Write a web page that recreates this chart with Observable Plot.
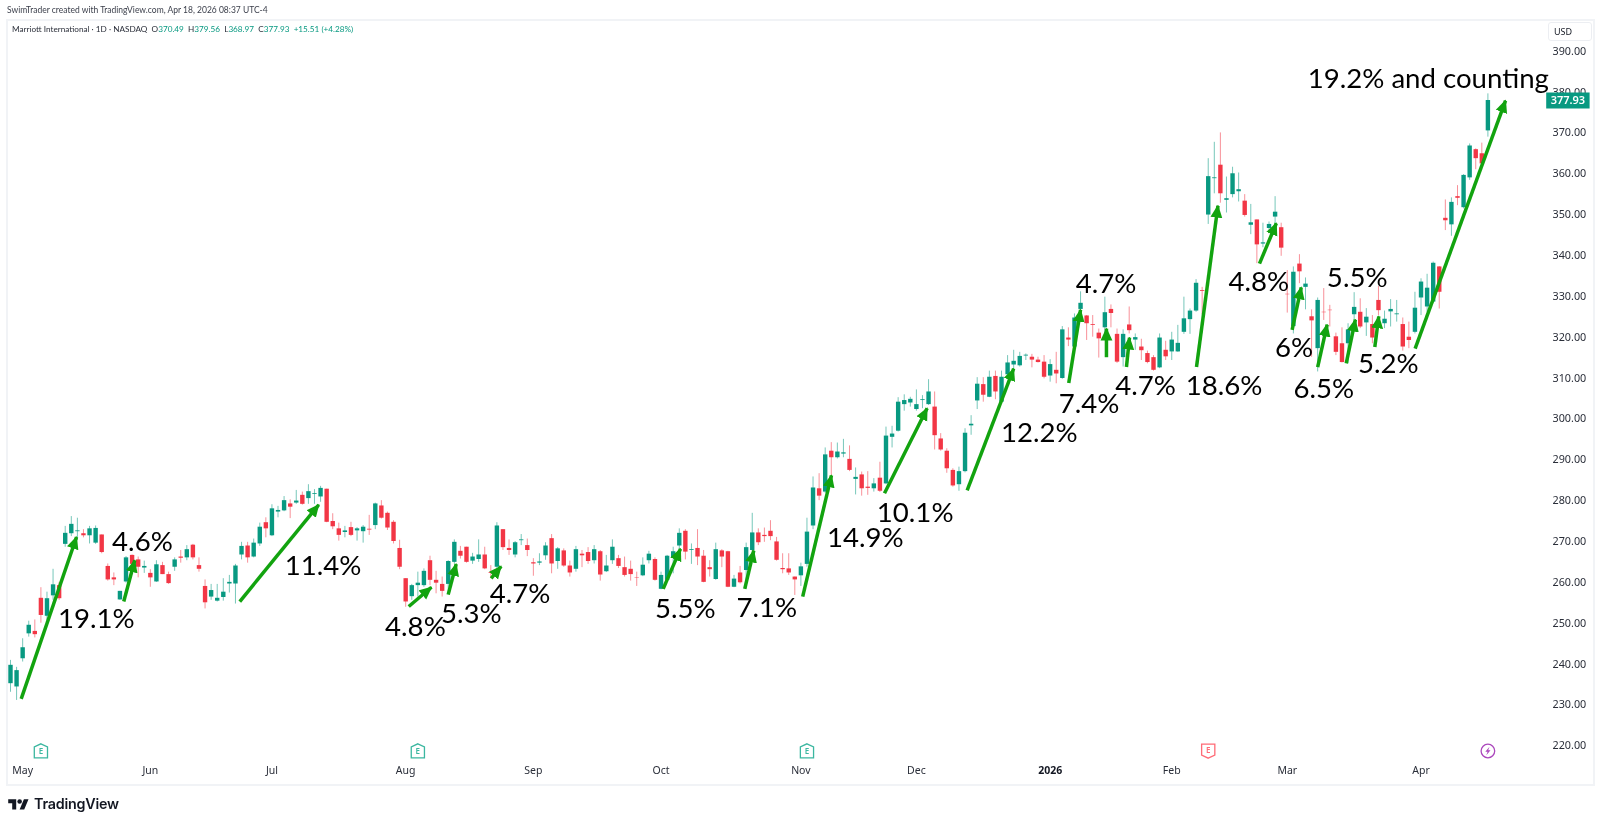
<!DOCTYPE html>
<html><head><meta charset="utf-8">
<script src="https://cdn.jsdelivr.net/npm/d3@7"></script>
<script src="https://cdn.jsdelivr.net/npm/@observablehq/plot@0.6"></script>
<style>
html,body{margin:0;padding:0;background:#fff;overflow:hidden;width:1600px;height:826px}
#wrap{position:relative;width:1600px;height:826px;font-family:"Noto Sans",sans-serif;color:#131722;filter:blur(.35px)}
#frame{position:absolute;left:6px;top:19px;width:1585px;height:763px;border:2px solid #f1f3f6}
#chart{position:absolute;left:0;top:0}
.h{position:absolute;white-space:nowrap}
#credit{left:7px;top:3px;font-family:Lato,sans-serif;font-size:8.5px;line-height:14px;color:#3a3e4a}
#legend{left:12px;top:22px;font-family:Lato,sans-serif;font-size:8.2px;line-height:14px;color:#2a2e39}
#legend b{font-weight:400;color:#089981}
#usd{left:1548px;top:22px;width:42px;height:17px;border:1px solid #eceef2;border-radius:3px;font-size:9px;line-height:17px;text-indent:5px;box-sizing:content-box}
#brand{left:34px;top:795px;font-family:Inter,sans-serif;font-weight:600;font-size:14.3px;line-height:18px;color:#131722;letter-spacing:-.2px}
#logo{left:8px;top:797px}
</style></head>
<body><div id="wrap">
<div id="frame"></div>
<div id="chart"></div>
<div class="h" id="credit">SwimTrader created with TradingView.com, Apr 18, 2026 08:37 UTC-4</div>
<div class="h" id="legend">Marriott International · 1D · NASDAQ&nbsp; O<b>370.49</b>&nbsp; H<b>379.56</b>&nbsp; L<b>368.97</b>&nbsp; C<b>377.93</b>&nbsp; <b>+15.51 (+4.28%)</b></div>
<div class="h" id="usd">USD</div>
<svg class="h" id="logo" width="21" height="16" viewBox="0 0 36 28"><path fill="#131722" d="M14 22H7V11H0V4h14v18zM28 22h-8l7.5-18h8L28 22z"/><circle fill="#131722" cx="20" cy="8" r="4"/></svg>
<div class="h" id="brand">TradingView</div>
</div>
<script>
const open = [
235.2,234.4,241.3,247.4,248.0,256.1,251.7,256.7,259.2,269.3,
271.9,272.4,271.9,271.4,269.6,271.6,263.9,261.1,255.7,260.1,
266.6,265.5,263.5,262.2,260.1,264.1,261.9,263.7,266.2,266.0,
269.1,264.1,259.0,256.4,255.4,256.3,259.6,259.6,266.7,268.9,
266.2,269.4,274.6,271.4,277.2,277.5,279.2,279.4,281.3,280.5,
281.5,280.9,282.8,274.9,273.1,272.2,273.4,272.6,272.4,273.0,
273.9,278.7,276.9,274.7,268.3,260.9,256.5,259.2,259.2,265.3,
260.5,259.5,259.5,264.9,267.6,268.6,265.2,265.6,266.7,262.4,
263.7,272.9,268.3,266.7,270.2,269.0,264.8,264.7,266.5,270.7,
265.1,267.7,264.0,263.2,266.9,267.3,265.3,267.5,262.6,265.3,
265.8,263.6,263.2,261.1,261.6,265.3,265.6,258.3,260.5,266.0,
268.9,272.5,267.8,268.3,266.4,263.6,260.7,267.7,267.5,258.8,
262.3,262.9,267.8,272.1,271.5,272.5,269.9,263.4,263.3,261.3,
261.6,264.4,273.8,282.9,282.1,292.1,290.5,291.4,290.1,285.2,
286.3,283.3,282.9,285.5,284.1,295.5,297.0,303.5,303.9,302.3,
304.5,303.5,302.9,295.1,292.1,287.4,283.9,287.1,298.3,304.4,
308.4,305.3,310.4,304.1,310.8,313.2,313.0,315.4,315.1,314.4,
313.9,310.5,311.9,309.9,319.8,317.6,326.8,325.2,323.1,321.0,
322.3,326.8,320.7,315.0,323.0,319.3,317.6,316.0,315.0,312.5,
316.8,316.4,316.4,321.2,324.3,326.4,331.4,349.9,358.8,362.1,
353.5,354.9,355.6,353.3,347.4,348.7,342.8,346.6,349.4,346.8,
330.5,322.6,337.9,332.2,325.0,317.2,326.1,326.6,320.1,318.4,
318.4,325.5,326.1,323.5,323.1,329.0,323.3,326.2,325.5,323.1,
320.0,321.2,329.6,327.4,328.6,337.2,349.1,347.5,354.4,351.7,
359.0,365.9,364.9,370.49];
const close = [
239.7,238.4,244.0,249.5,247.2,251.9,256.0,259.4,256.0,272.0,
274.2,272.6,271.4,273.1,273.2,267.3,260.6,260.6,257.8,266.0,
264.4,263.7,263.9,261.1,264.3,261.9,259.7,265.5,265.9,268.0,
266.0,263.2,255.0,258.0,256.1,257.6,260.0,264.0,268.8,266.0,
269.6,273.5,273.1,278.0,277.6,280.0,278.4,279.9,279.1,282.2,
281.7,283.0,274.7,273.6,271.5,272.6,271.5,273.1,273.5,272.8,
279.2,275.7,273.3,270.0,263.7,255.2,259.2,259.8,262.7,260.5,
259.8,257.8,265.1,269.8,266.4,264.9,266.2,266.7,263.3,262.2,
273.8,268.5,267.8,269.7,270.4,267.8,264.5,265.0,268.9,264.5,
268.2,264.0,262.3,268.0,266.5,265.1,268.0,261.8,264.0,268.6,
263.9,261.7,261.9,261.0,264.2,266.9,260.5,261.7,266.4,267.5,
272.0,267.4,268.0,266.2,260.0,263.1,268.0,266.2,258.8,260.8,
259.9,268.5,272.1,269.7,271.2,271.2,265.4,263.1,262.3,260.6,
263.8,272.3,283.1,281.1,291.2,290.5,291.9,291.7,287.4,285.7,
282.9,283.0,284.1,282.3,295.8,296.3,304.1,304.5,304.8,303.5,
304.7,306.6,295.9,292.4,287.8,283.6,287.1,296.5,298.7,308.5,
305.8,310.2,306.6,310.2,313.7,314.1,315.3,315.6,314.4,313.8,
310.2,313.3,311.0,321.8,319.3,324.7,328.3,323.3,322.9,319.6,
326.0,325.8,313.9,320.7,321.6,319.9,316.7,313.8,311.9,319.8,
315.2,319.3,318.5,324.5,326.4,333.2,331.2,359.3,359.0,355.1,
353.9,360.0,356.1,349.8,348.0,342.6,343.1,347.6,350.6,341.8,
330.4,335.9,336.0,333.0,324.0,329.0,326.0,326.5,316.3,313.8,
321.8,327.3,322.5,324.9,319.8,326.5,324.4,326.8,325.7,317.6,
319.2,327.1,333.5,332.0,338.1,331.0,348.5,353.0,354.0,359.6,
366.8,363.7,362.42,377.93];
const high = [
240.9,239.2,246.2,250.5,250.8,258.7,257.6,263.2,260.0,273.7,
276.1,275.7,272.9,273.7,273.8,271.6,264.5,262.3,257.8,266.3,
266.7,266.2,265.2,263.1,265.3,264.9,262.5,266.0,267.8,269.0,
269.3,266.0,260.6,259.5,259.5,260.9,261.7,264.4,269.8,269.8,
270.6,274.5,275.8,279.0,278.6,281.0,280.2,282.5,282.1,283.9,
282.7,283.5,282.8,276.8,274.5,273.7,274.7,273.4,273.9,276.4,
279.4,280.0,277.2,275.1,270.3,260.9,259.5,262.5,263.3,266.4,
262.7,261.3,265.3,270.4,268.8,268.6,267.1,270.4,268.6,264.1,
274.6,272.9,270.4,270.0,271.7,270.6,265.8,267.0,269.7,271.7,
268.5,268.2,265.2,268.8,267.8,268.5,269.0,267.8,266.6,270.4,
266.6,266.2,265.2,262.5,266.0,267.6,266.0,262.5,266.6,268.6,
273.1,272.9,269.4,272.9,267.8,265.3,269.6,268.0,267.6,261.7,
263.9,269.6,276.9,273.1,273.3,275.1,271.0,267.0,267.0,261.3,
264.7,275.7,285.8,286.6,292.9,294.2,294.1,295.0,293.4,288.0,
287.0,287.1,285.4,289.4,298.0,298.2,305.2,305.9,305.3,307.1,
305.7,309.6,306.6,296.4,292.7,287.8,288.2,297.6,300.8,310.1,
310.1,311.7,311.7,311.7,315.5,316.8,316.3,315.9,315.8,315.1,
315.5,314.5,316.3,322.6,322.3,325.7,331.1,325.3,325.3,322.0,
329.8,327.9,322.0,321.8,327.4,320.8,319.5,316.6,315.5,320.8,
319.0,321.2,322.9,329.8,326.9,334.1,332.2,363.7,367.7,370.0,
359.2,361.6,360.2,354.9,352.5,348.7,347.9,348.2,354.4,347.9,
336.3,337.2,340.2,334.5,326.7,329.6,331.9,327.8,321.0,322.3,
323.3,330.9,329.4,327.0,325.3,332.4,326.4,329.2,329.0,324.7,
323.7,331.0,334.3,335.4,338.4,337.3,353.6,354.1,357.1,359.8,
367.3,366.1,367.5,379.56];
const low = [
233.1,231.1,240.5,246.6,246.4,250.0,250.7,255.6,255.6,268.6,
271.2,270.3,270.9,269.4,269.3,267.0,260.3,259.2,255.6,259.8,
263.9,261.1,262.2,258.8,260.0,261.9,259.5,262.7,264.7,265.3,
265.5,262.5,253.5,255.6,255.2,255.4,257.4,254.7,265.5,264.7,
266.0,268.8,270.9,271.2,275.8,277.3,275.6,279.1,278.9,279.1,
279.1,279.6,274.6,272.9,270.1,270.9,271.2,270.1,269.6,271.5,
272.9,275.5,272.7,269.4,263.1,253.9,255.6,256.4,258.8,259.2,
257.2,256.4,257.2,264.5,265.7,264.7,264.4,264.9,263.1,260.9,
263.3,267.8,266.6,266.0,269.0,266.3,261.5,264.1,265.4,262.1,
263.2,263.7,261.3,262.5,263.6,264.4,264.5,260.3,262.4,264.4,
263.4,261.3,260.3,259.0,261.4,264.5,260.3,258.2,260.0,262.1,
267.8,265.5,264.4,264.1,259.9,261.3,260.5,263.6,258.7,258.7,
259.6,258.4,267.6,269.0,269.8,270.2,265.2,262.1,261.7,256.8,
259.0,263.7,272.9,280.0,281.8,286.2,290.2,290.5,287.1,281.4,
281.1,281.3,282.1,282.0,283.9,292.9,296.8,301.9,302.9,301.9,
302.5,303.3,292.4,292.1,286.7,283.3,282.3,286.8,296.0,302.3,
304.1,305.2,304.7,303.9,310.4,311.9,312.7,314.3,312.5,313.7,
309.8,309.0,308.6,309.7,317.7,317.4,326.5,319.2,320.0,314.9,
320.0,322.3,313.6,312.7,320.8,316.8,314.3,313.5,311.7,312.3,
314.3,314.3,316.3,320.7,320.7,326.1,325.5,347.6,355.1,352.8,
350.4,354.1,353.1,349.4,345.1,338.0,341.9,345.3,347.6,339.8,
325.9,320.8,333.1,326.7,315.1,311.5,324.1,322.5,315.5,313.7,
313.5,324.1,322.1,320.2,318.4,325.3,322.1,322.5,323.7,316.6,
317.2,320.8,325.3,326.1,328.2,326.9,346.1,344.7,352.2,351.4,
358.4,361.0,362.3,368.97];

const monthIndex  = [2,23,43,65,86,107,130,149,191,210,232];
const monthLabels = ["May","Jun","Jul","Aug","Sep","Oct","Nov","Dec","Feb","Mar","Apr"];
const yearIndex = [171];
const yearLabels = ["2026"];
const priceTicks = [220,230,240,250,260,270,280,290,300,310,320,330,340,350,360,370,380,390];
const lastClose = [377.93];

const earningsBeat = [5,67,131];
const earningsMiss = [197];
const dividendIndex = [243];

// Drawn swing arrows: tail index/price and tip index/price
const arrowX1 = [1.76,18.63,37.71,65.5,71.99,79.06,107.35,120.77,130.3,143.75,157.35,174.06,180.26,183.55,195.07,205.43,210.8,215,219.7,224.4,231.03];
const arrowY1 = [231.5,255.3,255.3,254.1,257,261,258.4,258.4,256.5,281.8,282.5,308.8,315.1,312.7,312.7,338,321.8,312.7,313.6,317.6,317.2];
const arrowX2 = [10.86,20.44,50.7,69.24,73.31,80.7,110.2,122.25,135.03,150.77,165,176,180.26,184.05,198.6,208.2,212.3,216.56,221.2,225.05,245.9];
const arrowY2 = [271.1,265.4,279,258.8,264.5,263.9,268.2,267.8,286.2,302.6,312.3,326.7,322.1,319.9,352.2,347.9,332.2,323.1,324.3,325.1,377.9];

const noteText = ["19.1%","4.6%","11.4%","4.8%","5.3%","4.7%","5.5%","7.1%","14.9%","10.1%","12.2%","7.4%","4.7%","4.7%","18.6%","4.8%","6%","5.5%","5.2%","6.5%","19.2% and counting"];
const noteX = [14.1,21.7,51.4,66.6,75.8,83.8,111,124.4,140.6,148.8,169.2,177.4,180.2,186.7,199.6,205.3,211.1,221.5,226.6,216,233.2];
const noteY = [250.9,269.8,264,249,252.3,257.1,253.5,253.6,270.9,277,296.5,303.5,333.1,308,308,333.5,317.3,334.5,313.3,307.3,383.2];

const UP = "#089981", DOWN = "#F23645", ARROW = "#12a30f";
const idx = d3.range(open.length);
const colour = i => close[i] >= open[i] ? UP : DOWN;
const arrows = d3.range(arrowX1.length);
const notes = d3.range(noteText.length);

const arrowHead = (color, context) => {
  const ns = "http://www.w3.org/2000/svg", doc = context.document;
  const m = doc.createElementNS(ns, "marker");
  m.setAttribute("viewBox", "0 0 12 12");
  m.setAttribute("markerWidth", 13);
  m.setAttribute("markerHeight", 13);
  m.setAttribute("markerUnits", "userSpaceOnUse");
  m.setAttribute("refX", 11);
  m.setAttribute("refY", 6);
  m.setAttribute("orient", "auto");
  const p = doc.createElementNS(ns, "path");
  p.setAttribute("d", "M0,.5L12,6L0,11.5Z");
  p.setAttribute("fill", color);
  p.setAttribute("stroke", "none");
  m.appendChild(p);
  return m;
};
const shield = dir => ({draw(c){
  c.moveTo(0, -7.2*dir); c.lineTo(6.6, -4.2*dir); c.lineTo(6.6, 6.8*dir); c.lineTo(-6.6, 6.8*dir); c.lineTo(-6.6, -4.2*dir); c.closePath();
}});
const bolt = {draw(c){
  c.moveTo(1.6,-4.2); c.lineTo(-2.6,.8); c.lineTo(-.3,.8); c.lineTo(-1.6,4.2); c.lineTo(2.6,-.8); c.lineTo(.3,-.8); c.closePath();
}};
const tag = {draw(c){ c.rect(-21.7, -8, 43.4, 16); }};

const chart = Plot.plot({
  width:1600, height:826,
  marginLeft:7, marginRight:48, marginTop:19, marginBottom:64,
  style:{background:"transparent", fontFamily:"'Noto Sans',sans-serif"},
  x:{domain:[0,243], range:[10,1487.4]},
  y:{domain:[220,390], range:[745.3,50.7]},
  marks:[
    Plot.axisY(priceTicks,{anchor:"right",tickSize:0,tickPadding:0,label:null,tickFormat:d=>d.toFixed(2),fontSize:10.8,fill:"#2a2e39"}),
    Plot.axisX(monthIndex,{tickSize:0,tickPadding:4,label:null,tickFormat:d=>monthLabels[monthIndex.indexOf(d)],fontSize:10.5,fill:"#2a2e39"}),
    Plot.axisX(yearIndex,{tickSize:0,tickPadding:4,label:null,tickFormat:d=>yearLabels[yearIndex.indexOf(d)],fontSize:10.5,fontWeight:700,fill:"#131722"}),
    Plot.ruleX(idx,{x:i=>i,y1:i=>low[i],y2:i=>high[i],stroke:colour,strokeWidth:1,strokeOpacity:.55}),
    Plot.ruleX(idx,{x:i=>i,y1:i=>open[i],y2:i=>close[i],stroke:colour,strokeWidth:4.4}),
    Plot.dot(earningsBeat,{x:d=>d,frameAnchor:"bottom",dy:-11.5,symbol:shield(1),stroke:"#3bb7a0",strokeWidth:1.3,fill:"white"}),
    Plot.text(earningsBeat,{x:d=>d,frameAnchor:"bottom",dy:-11,text:()=>"E",textAnchor:"middle",lineAnchor:"middle",fontSize:8,fontWeight:600,fill:"#3bb7a0"}),
    Plot.dot(earningsMiss,{x:d=>d,frameAnchor:"bottom",dy:-11.5,symbol:shield(-1),stroke:"#ff6b76",strokeWidth:1.3,fill:"white"}),
    Plot.text(earningsMiss,{x:d=>d,frameAnchor:"bottom",dy:-12,text:()=>"E",textAnchor:"middle",lineAnchor:"middle",fontSize:8,fontWeight:600,fill:"#ff6b76"}),
    Plot.dot(dividendIndex,{x:d=>d,frameAnchor:"bottom",dy:-11.5,r:6.8,stroke:"#ab47bc",strokeWidth:1.3,fill:"white"}),
    Plot.dot(dividendIndex,{x:d=>d,frameAnchor:"bottom",dy:-11.5,symbol:bolt,fill:"#ab47bc"}),
    Plot.link(arrows,{x1:i=>arrowX1[i],y1:i=>arrowY1[i],x2:i=>arrowX2[i],y2:i=>arrowY2[i],stroke:ARROW,strokeWidth:3.5,markerEnd:arrowHead}),
    Plot.text(notes,{x:i=>noteX[i],y:i=>noteY[i],text:i=>noteText[i],fontFamily:"Lato",fontSize:27.6,fill:"#000"}),
    Plot.dot(lastClose,{y:d=>d,frameAnchor:"right",dx:15.4,symbol:tag,fill:UP}),
    Plot.text(lastClose,{y:d=>d,frameAnchor:"right",dx:15.4,text:d=>d.toFixed(2),textAnchor:"middle",fill:"white",fontSize:11,fontWeight:600})
  ]
});
document.getElementById("chart").appendChild(chart);
</script>
</body></html>
